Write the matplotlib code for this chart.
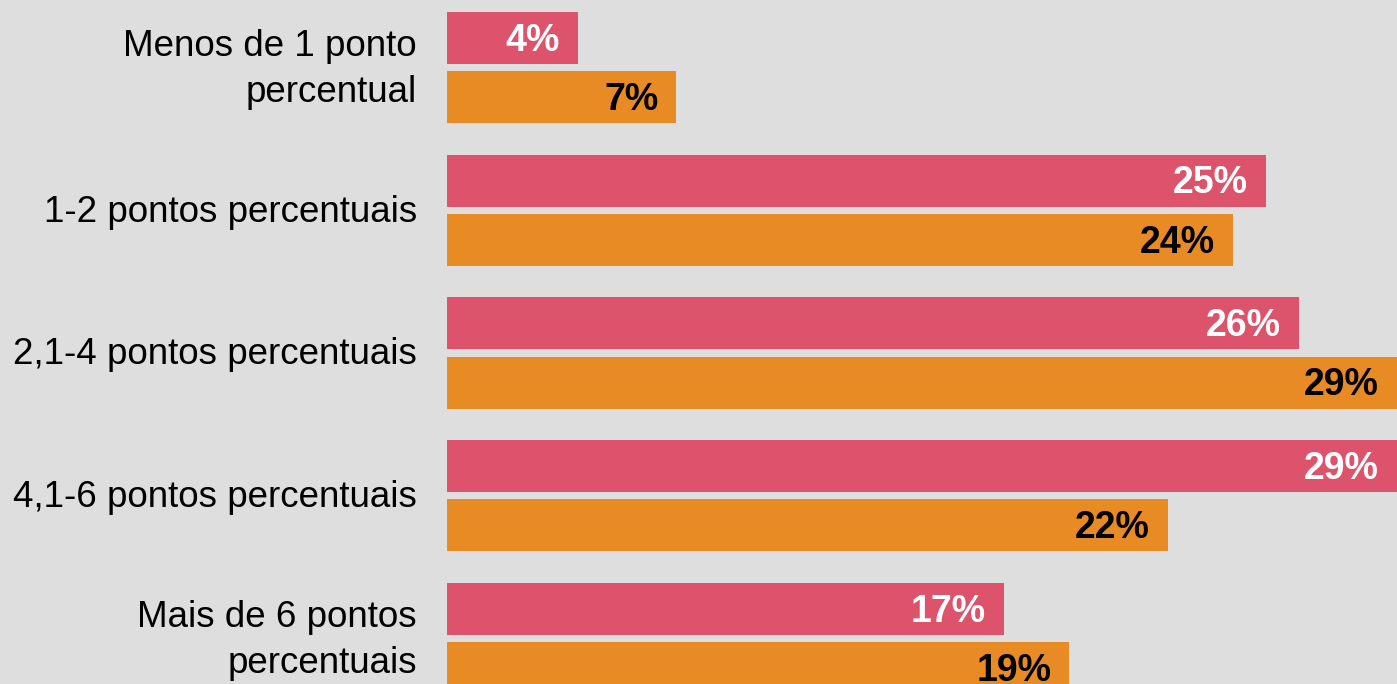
#!/usr/bin/env python3
# -*- coding: utf-8 -*-
"""Grouped horizontal bars: share of answers per range of percentage points."""

import matplotlib

matplotlib.use("Agg")
import matplotlib.pyplot as plt
import matplotlib.transforms as mtransforms
import numpy as np

CATEGORIES = [
    "Menos de 1 ponto\npercentual",
    "1-2 pontos percentuais",
    "2,1-4 pontos percentuais",
    "4,1-6 pontos percentuais",
    "Mais de 6 pontos\npercentuais",
]
SERIES_A = [4, 25, 26, 29, 17]
SERIES_B = [7, 24, 29, 22, 19]

BG = "#dedede"
PINK = "#dc536b"
ORANGE = "#e88b25"

plt.rcParams["font.family"] = ["Liberation Sans", "DejaVu Sans"]

fig = plt.figure(figsize=(13.97, 6.84), dpi=100, facecolor=BG)
ax = fig.add_axes([0.32, 0.0, 0.68, 1.0])
ax.set_facecolor(BG)

y = np.arange(len(CATEGORIES))
offset = 0.207
height = 0.364

bars_a = ax.barh(y - offset, SERIES_A, height=height, color=PINK)
bars_b = ax.barh(y + offset, SERIES_B, height=height, color=ORANGE)

for bars, values, txt_color in ((bars_a, SERIES_A, "white"), (bars_b, SERIES_B, "black")):
    for bar, v in zip(bars, values):
        ax.annotate(f"{v}%", xy=(v, bar.get_y() + bar.get_height() / 2),
                    xytext=(-13, -2), textcoords="offset points",
                    ha="right", va="center", fontsize=27, fontweight="bold",
                    color=txt_color)

# category names, right-aligned 30px left of the bars
base = mtransforms.blended_transform_factory(ax.transAxes, ax.transData)
for yi, name in zip(y, CATEGORIES):
    tr = base + mtransforms.ScaledTranslation(-0.30, -0.02, fig.dpi_scale_trans)
    ax.text(0, yi, name, transform=tr, ha="right", va="center",
            fontsize=26.5, linespacing=1.42, multialignment="right")

ax.set_xlim(0, 29)
ax.set_ylim(4.319, -0.473)
ax.set_xticks([])
ax.set_yticks([])
for spine in ax.spines.values():
    spine.set_visible(False)

fig.savefig("out.png", facecolor=BG)
